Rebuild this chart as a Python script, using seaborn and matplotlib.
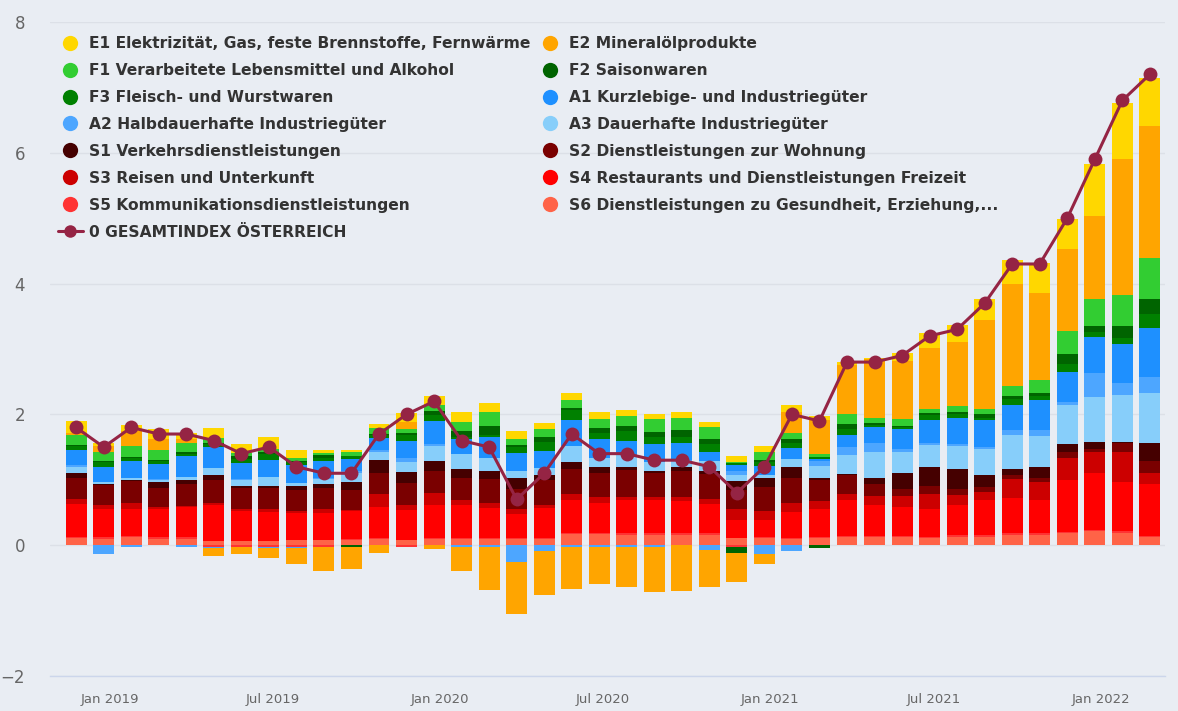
import matplotlib
matplotlib.use("Agg")
import matplotlib.pyplot as plt
import matplotlib.transforms as mtransforms
from matplotlib.lines import Line2D
import numpy as np
import pandas as pd
import seaborn as sns

# months Jan 2019 .. Apr 2022
months = pd.date_range("2019-01-01", "2022-04-01", freq="MS")

# contributions in percentage points
E1 = [0.19, 0.05, 0.10, 0.15, 0.08, 0.15, 0.13, 0.19, 0.11, 0.04, 0.04, 0.06, 0.14, 0.13, 0.15, 0.14, 0.12, 0.09, 0.10, 0.10,
      0.08, 0.07, 0.08, 0.07, 0.09, 0.09, 0.11, 0.07, 0.04, 0.03, 0.13, 0.22, 0.27, 0.32, 0.37, 0.46, 0.46, 0.79, 0.85, 0.74]
E2 = [0.03, 0.08, 0.23, 0.17, 0.07, -0.12, -0.12, -0.16, -0.25, -0.37, -0.35, -0.12, 0.10, -0.06, -0.37, -0.66, -0.80, -0.67, -0.65, -0.57,
      -0.62, -0.69, -0.70, -0.57, -0.44, -0.14, 0.32, 0.52, 0.75, 0.89, 0.88, 0.93, 0.97, 1.35, 1.56, 1.33, 1.25, 1.27, 2.09, 2.02]
F1 = [0.15, 0.14, 0.16, 0.14, 0.14, 0.08, 0.05, 0.05, 0.05, 0.03, 0.05, 0.09, 0.07, 0.10, 0.13, 0.20, 0.10, 0.13, 0.12, 0.14,
      0.15, 0.20, 0.19, 0.18, 0.02, 0.12, 0.09, 0.04, 0.15, 0.08, 0.10, 0.07, 0.09, 0.09, 0.15, 0.19, 0.36, 0.42, 0.47, 0.63]
F2 = [0.02, 0.02, 0.02, 0.02, 0.02, 0.02, 0.04, 0.02, 0.02, 0.05, -0.02, 0.02, 0.02, 0.06, 0.09, 0.15, 0.03, 0.07, 0.03, 0.08,
      0.09, 0.07, 0.11, 0.08, -0.10, 0.03, 0.05, -0.04, 0.08, 0.03, 0.02, 0.03, 0.04, 0.05, 0.05, 0.05, 0.15, 0.09, 0.18, 0.22]
F3 = [0.06, 0.07, 0.04, 0.05, 0.04, 0.04, 0.07, 0.10, 0.05, 0.05, 0.05, 0.04, 0.09, 0.09, 0.03, 0.03, 0.09, 0.14, 0.16, 0.08,
      0.14, 0.12, 0.08, 0.12, 0.02, 0.06, 0.08, 0.03, 0.09, 0.03, 0.03, 0.07, 0.05, 0.04, 0.08, 0.06, 0.12, 0.08, 0.09, 0.22]
A1 = [0.22, 0.24, 0.26, 0.23, 0.31, 0.32, 0.24, 0.26, 0.27, 0.25, 0.19, 0.19, 0.26, 0.36, 0.24, 0.32, 0.27, 0.26, 0.40, 0.30,
      0.22, 0.27, 0.27, 0.15, 0.09, 0.13, 0.17, 0.04, 0.19, 0.24, 0.31, 0.36, 0.40, 0.41, 0.39, 0.46, 0.46, 0.55, 0.60, 0.75]
A2 = [0.03, -0.13, -0.02, 0.02, -0.03, -0.03, 0.02, -0.02, -0.02, 0.02, 0.02, 0.03, 0.07, 0.03, -0.03, -0.03, -0.25, -0.09, -0.02, -0.02,
      -0.02, -0.02, 0.02, -0.07, 0.07, -0.14, -0.09, 0.07, 0.12, 0.15, 0.04, 0.03, 0.03, 0.03, 0.08, 0.09, 0.04, 0.37, 0.19, 0.24]
A3 = [0.10, 0.02, 0.03, 0.02, 0.05, 0.10, 0.09, 0.13, 0.05, 0.07, 0.15, 0.11, 0.15, 0.23, 0.23, 0.19, 0.12, 0.10, 0.24, 0.14,
      0.19, 0.14, 0.09, 0.14, 0.09, 0.05, 0.12, 0.19, 0.29, 0.39, 0.32, 0.34, 0.36, 0.39, 0.51, 0.47, 0.60, 0.68, 0.71, 0.76]
S1 = [0.07, 0.02, 0.02, 0.09, 0.07, 0.08, 0.03, 0.04, 0.06, 0.06, 0.11, 0.20, 0.17, 0.15, 0.13, 0.13, 0.16, 0.08, 0.10, 0.09,
      0.04, 0.02, 0.05, 0.05, 0.14, 0.14, 0.18, 0.03, 0.01, 0.10, 0.25, 0.29, 0.30, 0.19, 0.09, 0.18, 0.13, 0.11, 0.02, 0.28]
S2 = [0.32, 0.31, 0.33, 0.30, 0.33, 0.36, 0.31, 0.31, 0.31, 0.33, 0.31, 0.33, 0.34, 0.33, 0.34, 0.36, 0.31, 0.38, 0.39, 0.37,
      0.41, 0.38, 0.41, 0.38, 0.28, 0.36, 0.38, 0.31, 0.29, 0.18, 0.11, 0.12, 0.09, 0.08, 0.07, 0.06, 0.09, 0.05, 0.14, 0.19]
S3 = [0.08, 0.06, 0.09, 0.03, 0.02, 0.03, 0.04, 0.05, 0.03, 0.05, 0.02, 0.19, 0.07, 0.18, 0.08, 0.08, 0.08, 0.05, 0.09, 0.08,
      0.05, 0.04, 0.05, 0.08, 0.18, 0.15, 0.13, 0.12, 0.10, 0.13, 0.16, 0.22, 0.15, 0.12, 0.29, 0.27, 0.33, 0.31, 0.45, 0.17]
S4 = [0.50, 0.43, 0.42, 0.43, 0.46, 0.54, 0.46, 0.45, 0.42, 0.42, 0.42, 0.48, 0.46, 0.51, 0.50, 0.46, 0.36, 0.46, 0.50, 0.46,
      0.51, 0.51, 0.50, 0.45, 0.27, 0.25, 0.40, 0.43, 0.55, 0.48, 0.45, 0.43, 0.47, 0.54, 0.54, 0.51, 0.80, 0.88, 0.76, 0.79]
S5 = [0.02, 0.02, 0.02, 0.02, 0.02, -0.02, -0.02, -0.02, -0.02, -0.02, 0.02, 0.02, -0.03, 0.02, 0.02, 0.02, 0.02, 0.02, 0.02, 0.02,
      0.02, 0.02, 0.02, 0.02, -0.02, 0.02, 0.02, 0.02, 0.02, 0.02, 0.02, 0.02, 0.02, 0.02, 0.02, 0.02, 0.02, 0.02, 0.02, 0.02]
S6 = [0.11, 0.10, 0.12, 0.10, 0.10, 0.07, 0.06, 0.06, 0.08, 0.08, 0.08, 0.09, 0.08, 0.09, 0.09, 0.09, 0.09, 0.09, 0.17, 0.17,
      0.16, 0.16, 0.16, 0.16, 0.11, 0.11, 0.09, 0.11, 0.12, 0.12, 0.12, 0.11, 0.13, 0.13, 0.16, 0.16, 0.18, 0.21, 0.19, 0.12]
total = [1.8, 1.5, 1.8, 1.7, 1.7, 1.6, 1.4, 1.5, 1.2, 1.1, 1.1, 1.7, 2.0, 2.2, 1.6, 1.5, 0.7, 1.1, 1.7, 1.4,
         1.4, 1.3, 1.3, 1.2, 0.8, 1.2, 2.0, 1.9, 2.8, 2.8, 2.9, 3.2, 3.3, 3.7, 4.3, 4.3, 5.0, 5.9, 6.8, 7.2]

series_names = [
    "E1 Elektrizität, Gas, feste Brennstoffe, Fernwärme",
    "E2 Mineralölprodukte",
    "F1 Verarbeitete Lebensmittel und Alkohol",
    "F2 Saisonwaren",
    "F3 Fleisch- und Wurstwaren",
    "A1 Kurzlebige- und Industriegüter",
    "A2 Halbdauerhafte Industriegüter",
    "A3 Dauerhafte Industriegüter",
    "S1 Verkehrsdienstleistungen",
    "S2 Dienstleistungen zur Wohnung",
    "S3 Reisen und Unterkunft",
    "S4 Restaurants und Dienstleistungen Freizeit",
    "S5 Kommunikationsdienstleistungen",
    "S6 Dienstleistungen zu Gesundheit, Erziehung,...",
]
series_values = [E1, E2, F1, F2, F3, A1, A2, A3, S1, S2, S3, S4, S5, S6]
series_colors = ["#FFD700", "#FFA500", "#32CD32", "#006400", "#008000", "#1E90FF", "#4DA6FF",
                 "#87CEFA", "#450000", "#7A0000", "#CC0000", "#FF0000", "#FF3333", "#FF6347"]
total_name = "0 GESAMTINDEX ÖSTERREICH"
total_color = "#952444"

bg = "#E9EDF3"
sns.set_theme(style="white")
plt.rcParams["font.family"] = ["DejaVu Sans"]

fig = plt.figure(figsize=(11.78, 7.11), dpi=100, facecolor=bg)
ax = fig.add_axes([50 / 1178, 35 / 711, 1115 / 1178, 654 / 711])
ax.set_facecolor(bg)

x = np.arange(len(months))
pos_bottom = np.zeros(len(x))
neg_bottom = np.zeros(len(x))
# stack from S6 upwards (reverse legend order), negatives downwards
for name, vals, col in reversed(list(zip(series_names, series_values, series_colors))):
    v = np.array(vals)
    pos = np.where(v > 0, v, 0)
    neg = np.where(v < 0, v, 0)
    ax.bar(x, pos, bottom=pos_bottom, width=0.76, color=col, linewidth=0, zorder=2)
    ax.bar(x, neg, bottom=neg_bottom, width=0.76, color=col, linewidth=0, zorder=2)
    pos_bottom += pos
    neg_bottom += neg

sns.lineplot(x=x, y=total, ax=ax, color=total_color, linewidth=2.2, marker="o",
             markersize=10, markeredgewidth=0, zorder=5)

ax.set_xlim(-0.95, 39.55)
ax.set_ylim(-2, 8)
ax.set_yticks([-2, 0, 2, 4, 6, 8])
ax.set_yticklabels(["\u22122", "0", "2", "4", "6", "8"])
ax.grid(axis="y", color="#DCE0E7", linewidth=1, zorder=0)
ax.tick_params(axis="y", length=0, pad=18, labelsize=12, labelcolor="#666666")

tick_idx = list(range(0, 40, 6))
ax.set_xticks(tick_idx)
ax.set_xticklabels([months[i].strftime("%b %Y") for i in tick_idx], ha="left")
ax.tick_params(axis="x", length=10, width=1, color="#CCD6EB", pad=2, labelsize=9.5, labelcolor="#666666")
offset = mtransforms.ScaledTranslation(3 / 72, 0, fig.dpi_scale_trans)
for lab in ax.get_xticklabels():
    lab.set_transform(lab.get_transform() + offset)

for s in ["top", "right", "left"]:
    ax.spines[s].set_visible(False)
ax.spines["bottom"].set_color("#CCD6EB")
ax.spines["bottom"].set_linewidth(1)

# legend: row-wise order in two columns
handles = [Line2D([], [], marker="o", linestyle="none", markersize=11, color=c, markeredgewidth=0)
           for c in series_colors]
total_handle = Line2D([], [], marker="o", linestyle="-", linewidth=2.2, markersize=9,
                      color=total_color, markeredgewidth=0)
col1 = [0, 2, 4, 6, 8, 10, 12]
col2 = [1, 3, 5, 7, 9, 11, 13]
leg_handles = [handles[i] for i in col1] + [total_handle] + [handles[i] for i in col2]
leg_labels = [series_names[i] for i in col1] + [total_name] + [series_names[i] for i in col2]
leg = ax.legend(leg_handles, leg_labels, ncol=2, loc="upper left",
                bbox_to_anchor=(58 / 1178, 675 / 711), bbox_transform=fig.transFigure,
                frameon=False, fontsize=11.2, labelspacing=0.77, handlelength=1.6,
                handletextpad=0.4, columnspacing=0.45, borderpad=0, borderaxespad=0)
for t in leg.get_texts():
    t.set_color("#333333")
    t.set_fontweight("bold")

fig.savefig("out.png", dpi=100, facecolor=bg)
